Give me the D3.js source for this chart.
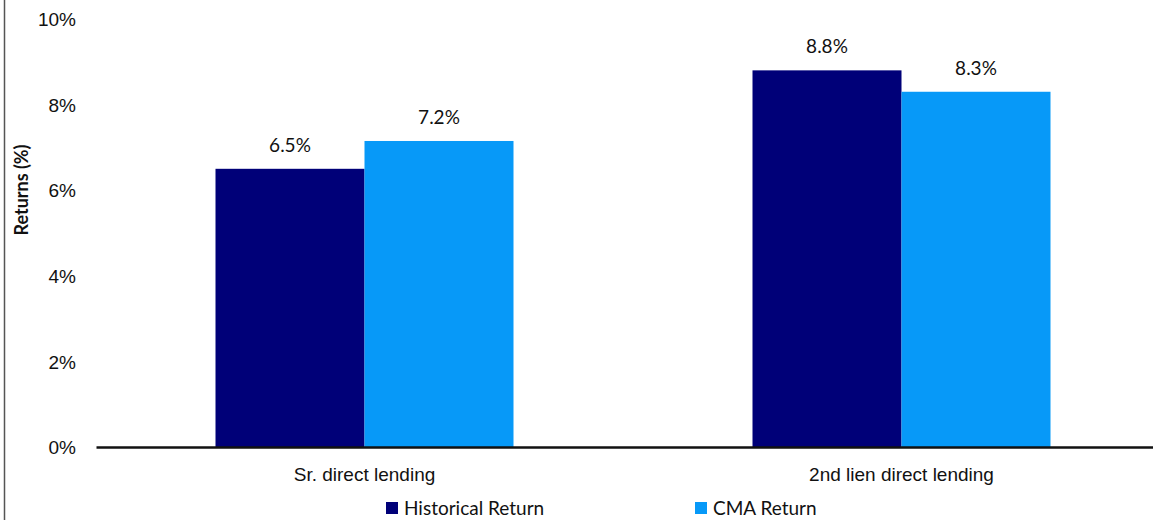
<!DOCTYPE html>
<html>
<head>
<meta charset="utf-8">
<script src="https://cdn.jsdelivr.net/npm/d3@7"></script>
<style>
  body { margin: 0; background: #fff; }
  svg { font-family: Lato, "Open Sans", sans-serif; display: block; }
  .axis text { font-size: 19px; fill: #111; }
</style>
</head>
<body>
<svg id="chart"></svg>
<script>
const categories = ['Sr. direct lending', '2nd lien direct lending'];
const seriesNames = ['Historical Return', 'CMA Return'];
const historical = [6.5, 8.8];
const cma = [7.15, 8.3];
const yTicks = [0, 2, 4, 6, 8, 10];
const colors = ['#000078', '#0799f8'];

const W = 1153, H = 520;
const margin = {top: 19, right: 0, bottom: 73, left: 96};

const svg = d3.select('#chart').attr('width', W).attr('height', H);

const rows = categories.map((c, i) => ({cat: c, vals: [historical[i], cma[i]]}));

const x = d3.scaleBand().domain(categories)
  .range([margin.left, margin.left + 1074]).paddingInner(0).paddingOuter(0);
const inner = d3.scaleBand().domain(seriesNames)
  .range([x.bandwidth() / 2 - 149, x.bandwidth() / 2 + 149]);
const y = d3.scaleLinear().domain([0, 10]).range([H - margin.bottom, margin.top]);

// outer frame line on the left
svg.append('line').attr('x1', 4.5).attr('x2', 4.5).attr('y1', 0).attr('y2', H)
  .attr('stroke', '#555').attr('stroke-width', 1.5);

// y axis labels (no line)
const yAxis = svg.append('g').attr('class', 'axis')
  .attr('transform', `translate(${margin.left - 20},0)`)
  .call(d3.axisLeft(y).tickValues(yTicks).tickFormat(d => d + '%').tickSize(0).tickPadding(0));
yAxis.select('.domain').remove();
yAxis.selectAll('text').attr('dy', '0.35em');

svg.append('text')
  .attr('transform', 'translate(22,190) rotate(-90)')
  .attr('text-anchor', 'middle').attr('dy', '0.35em')
  .style('font-size', '18px').style('font-weight', 'bold').attr('fill', '#111')
  .text('Returns (%)');

// bars
const groups = svg.append('g').selectAll('g').data(rows).join('g')
  .attr('transform', d => `translate(${x(d.cat)},0)`);

groups.selectAll('rect')
  .data(d => d.vals.map((v, j) => ({name: seriesNames[j], v, j})))
  .join('rect')
  .attr('x', d => inner(d.name))
  .attr('width', inner.bandwidth())
  .attr('y', d => y(d.v))
  .attr('height', d => y(0) - y(d.v))
  .attr('fill', d => colors[d.j]);

groups.selectAll('text.val')
  .data(d => d.vals.map((v, j) => ({name: seriesNames[j], v, j})))
  .join('text')
  .attr('class', 'val')
  .attr('x', d => inner(d.name) + inner.bandwidth() / 2)
  .attr('y', d => y(d.v) - 17)
  .attr('text-anchor', 'middle')
  .style('font-size', '19px').attr('fill', '#111')
  .text(d => d.v.toFixed(1) + '%');

// x axis
const xAxis = svg.append('g').attr('class', 'axis')
  .attr('transform', `translate(0,${y(0)})`)
  .call(d3.axisBottom(x).tickSize(0).tickPadding(21));
xAxis.select('.domain').attr('stroke', '#111').attr('stroke-width', 2.5);
xAxis.selectAll('text').attr('dy', '0.71em');

// legend
const legend = svg.append('g').selectAll('g').data(seriesNames).join('g')
  .attr('transform', (d, i) => `translate(${[386, 695][i]},${H - 12})`);
legend.append('rect').attr('x', 0).attr('y', -6).attr('width', 12).attr('height', 12)
  .attr('fill', (d, i) => colors[i]);
legend.append('text').attr('x', 18).attr('dy', '0.35em')
  .style('font-size', '19px').attr('fill', '#111').text(d => d);
</script>
</body>
</html>
